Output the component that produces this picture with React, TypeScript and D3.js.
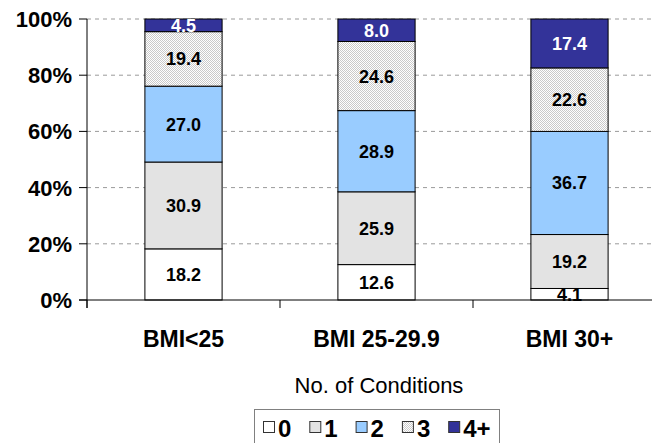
import React from "react";
import * as d3 from "d3";

const categories = ["BMI<25", "BMI 25-29.9", "BMI 30+"];
const seriesKeys = ["0", "1", "2", "3", "4+"];
const cond0 = [18.2, 12.6, 4.1];
const cond1 = [30.9, 25.9, 19.2];
const cond2 = [27.0, 28.9, 36.7];
const cond3 = [19.4, 24.6, 22.6];
const cond4 = [4.5, 8.0, 17.4];
const yTicks = [0, 20, 40, 60, 80, 100];
const legendTitle = "No. of Conditions";

const fills: Record<string, string> = {
  "0": "#ffffff",
  "1": "#e3e3e3",
  "2": "#99ccff",
  "3": "url(#dots)",
  "4+": "#333399",
};
const labelColors: Record<string, string> = {
  "0": "#000",
  "1": "#000",
  "2": "#000",
  "3": "#000",
  "4+": "#ffffff",
};

export default function App() {
  const W = 652;
  const H = 443;
  const left = 87;
  const top = 19;
  const bottom = 300;
  const font = "'Liberation Sans', Arial, sans-serif";

  const rows = categories.map((c, i) => ({
    cat: c,
    "0": cond0[i],
    "1": cond1[i],
    "2": cond2[i],
    "3": cond3[i],
    "4+": cond4[i],
  }));
  const stacked = d3.stack<any>().keys(seriesKeys)(rows);

  const x = d3
    .scaleBand<string>()
    .domain(categories)
    .range([left, 666])
    .paddingInner(0.6)
    .paddingOuter(0.3);
  const y = d3.scaleLinear().domain([0, 100]).range([bottom, top]);
  const step = x.step();
  const catTicks = [0, 1, 2].map((i) => left + i * step);

  const legendX0 = 263;
  const legendStep = 46.3;

  return (
    <svg
      width={W}
      height={H}
      style={{ position: "absolute", left: 0, top: 0, background: "#fff" }}
      fontFamily={font}
    >
      <defs>
        <pattern id="dots" width={2} height={2} patternUnits="userSpaceOnUse">
          <rect width={2} height={2} fill="#ffffff" />
          <rect x={0} y={0} width={1} height={1} fill="#cacaca" />
          <rect x={1} y={1} width={1} height={1} fill="#cacaca" />
        </pattern>
      </defs>
      <rect width={W} height={H} fill="#fff" />

      {/* gridlines */}
      {yTicks
        .filter((t) => t > 0)
        .map((t) => (
          <line
            key={"g" + t}
            x1={left}
            x2={W}
            y1={y(t)}
            y2={y(t)}
            stroke="#9a9a9a"
            strokeDasharray="4,4"
            strokeWidth={1}
          />
        ))}

      {/* bars */}
      {stacked.map((s) =>
        s.map((d, i) => {
          const bx = x(categories[i])!;
          const y0 = y(d[0]);
          const y1 = y(d[1]);
          return (
            <rect
              key={s.key + i}
              x={bx}
              y={y1}
              width={x.bandwidth()}
              height={y0 - y1}
              fill={fills[s.key]}
              stroke="#000"
              strokeWidth={1}
            />
          );
        })
      )}

      {/* bar labels */}
      {stacked.map((s) =>
        s.map((d, i) => {
          const cx = x(categories[i])! + x.bandwidth() / 2;
          const cy = (y(d[0]) + y(d[1])) / 2;
          const val = d[1] - d[0];
          return (
            <text
              key={"l" + s.key + i}
              x={cx}
              y={cy}
              dy="0.36em"
              textAnchor="middle"
              fontSize={18}
              fontWeight="bold"
              fill={labelColors[s.key]}
            >
              {val.toFixed(1)}
            </text>
          );
        })
      )}

      {/* y axis */}
      <line x1={left} x2={left} y1={top} y2={bottom + 8} stroke="#000" strokeWidth={1} />
      {yTicks.map((t) => (
        <g key={"yt" + t}>
          <line x1={left - 8} x2={left} y1={y(t)} y2={y(t)} stroke="#000" />
          <text
            x={72}
            y={y(t)}
            dy="0.36em"
            textAnchor="end"
            fontSize={22}
            fontWeight="bold"
          >
            {t + "%"}
          </text>
        </g>
      ))}

      {/* x axis */}
      <line x1={left - 8} x2={W} y1={bottom} y2={bottom} stroke="#000" strokeWidth={1} />
      {catTicks.map((tx, i) => (
        <line key={"xt" + i} x1={tx} x2={tx} y1={bottom} y2={bottom + 8} stroke="#000" />
      ))}
      {categories.map((c) => (
        <text
          key={"c" + c}
          x={x(c)! + x.bandwidth() / 2}
          y={347}
          textAnchor="middle"
          fontSize={23}
          fontWeight="bold"
        >
          {c}
        </text>
      ))}

      {/* legend */}
      <text x={379} y={393} textAnchor="middle" fontSize={22}>
        {legendTitle}
      </text>
      <rect x={254.5} y={409.5} width={245} height={40} fill="none" stroke="#808080" strokeWidth={1} />
      {seriesKeys.map((k, i) => {
        const lx = legendX0 + i * legendStep;
        return (
          <g key={"lg" + k}>
            <rect
              x={lx + 0.5}
              y={421.5}
              width={11}
              height={11}
              fill={fills[k]}
              stroke="#333"
              strokeWidth={1}
            />
            <text x={lx + 15} y={437} fontSize={24} fontWeight="bold">
              {k}
            </text>
          </g>
        );
      })}
    </svg>
  );
}
